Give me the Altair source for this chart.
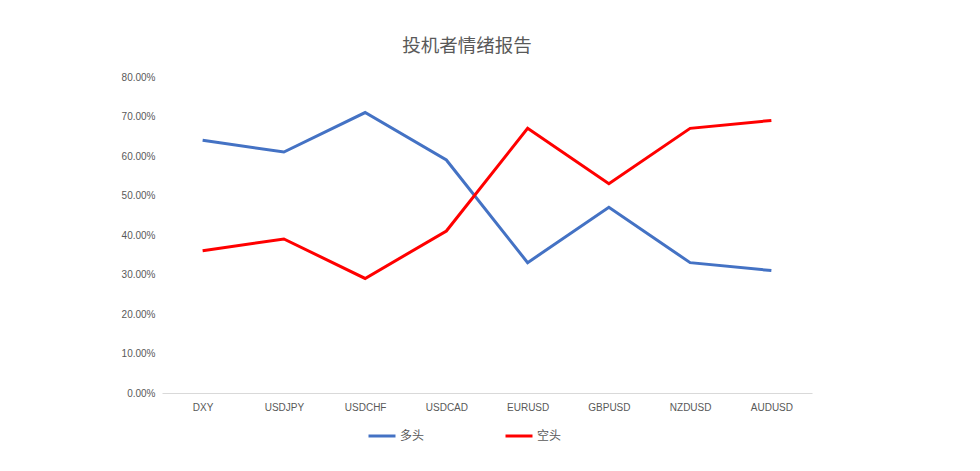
import altair as alt
import pandas as pd

categories = ["DXY", "USDJPY", "USDCHF", "USDCAD", "EURUSD", "GBPUSD", "NZDUSD", "AUDUSD"]
long_vals = [0.64, 0.61, 0.71, 0.59, 0.33, 0.47, 0.33, 0.31]
short_vals = [0.36, 0.39, 0.29, 0.41, 0.67, 0.53, 0.67, 0.69]
series_names = ["多头", "空头"]
series_colors = ["#4472C4", "#FF0000"]
y_ticks = [0, 0.1, 0.2, 0.3, 0.4, 0.5, 0.6, 0.7, 0.8]

rows = []
for c, v in zip(categories, long_vals):
    rows.append({"cat": c, "series": series_names[0], "value": v})
for c, v in zip(categories, short_vals):
    rows.append({"cat": c, "series": series_names[1], "value": v})
df = pd.DataFrame(rows)

font = "Noto Sans CJK SC"

chart = alt.Chart(df).mark_line(strokeWidth=3).encode(
    x=alt.X("cat:N", sort=categories,
            scale=alt.Scale(type="point", padding=0.5),
            axis=alt.Axis(title=None, labelAngle=0, ticks=False, domainColor="#d9d9d9",
                          labelColor="#595959", labelFont="Liberation Sans", labelFontSize=10,
                          labelPadding=9, grid=False)),
    y=alt.Y("value:Q", scale=alt.Scale(domain=[0, 0.8], nice=False),
            axis=alt.Axis(title=None, format=".2%", values=y_ticks, domain=False, ticks=False,
                          grid=False, labelColor="#595959", labelFont="Liberation Sans",
                          labelFontSize=10, labelPadding=7)),
    color=alt.Color("series:N", sort=series_names,
                    scale=alt.Scale(domain=series_names, range=series_colors),
                    legend=alt.Legend(title=None, orient="none", direction="horizontal",
                                      legendX=205, legendY=344,
                                      symbolType="stroke", symbolSize=729, symbolStrokeWidth=3,
                                      labelFont=font, labelFontSize=12, labelColor="#595959",
                                      columnPadding=74, labelOffset=3)),
).properties(
    width=650, height=316,
    title=alt.TitleParams("投机者情绪报告", font=font, fontSize=18.5, fontWeight="normal",
                          color="#595959", anchor="middle", dx=-20, offset=17),
    autosize=alt.AutoSizeParams(type="none"),
    padding={"left": 154, "top": 69, "right": 160, "bottom": 70},
).configure_view(stroke=None)

chart.save("out.html", embed_options={"renderer": "svg", "actions": False})
